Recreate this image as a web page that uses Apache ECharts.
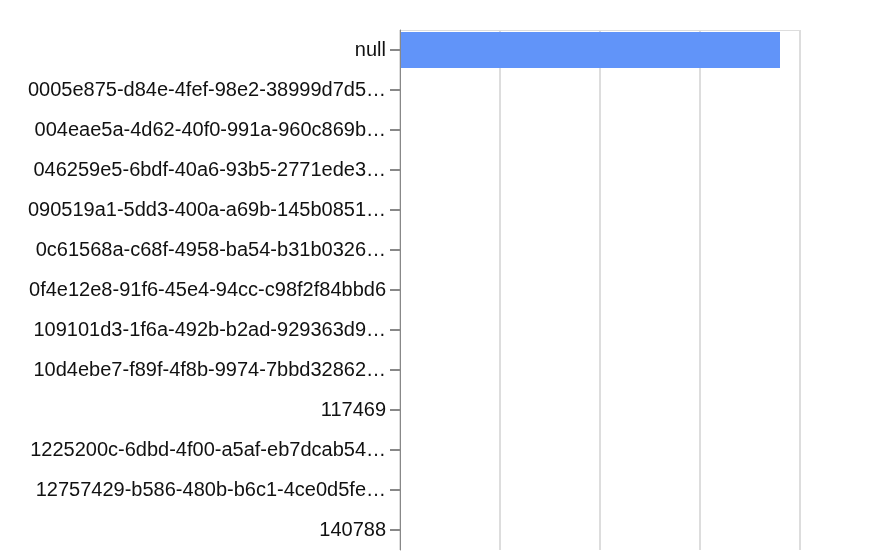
<!DOCTYPE html>
<html>
<head>
<meta charset="utf-8">
<script src="https://cdn.jsdelivr.net/npm/echarts@6/dist/echarts.min.js"></script>
<style>
html,body{margin:0;padding:0;background:#fff;overflow:hidden;}
#chart{width:882px;height:552px;}
</style>
</head>
<body>
<div id="chart"></div>
<script>
var categories = [
  "null",
  "0005e875-d84e-4fef-98e2-38999d7d5d1a",
  "004eae5a-4d62-40f0-991a-960c869b2c3e",
  "046259e5-6bdf-40a6-93b5-2771ede3a4f0",
  "090519a1-5dd3-400a-a69b-145b08517e2c",
  "0c61568a-c68f-4958-ba54-b31b03269d4e",
  "0f4e12e8-91f6-45e4-94cc-c98f2f84bbd6",
  "109101d3-1f6a-492b-b2ad-929363d9e1f7",
  "10d4ebe7-f89f-4f8b-9974-7bbd32862a5c",
  "117469",
  "1225200c-6dbd-4f00-a5af-eb7dcab54e83",
  "12757429-b586-480b-b6c1-4ce0d5fe9a12",
  "140788"
];
var values = [380, 0.5, 1, 0.5, 1, 0.5, 0.5, 0.5, 0.5, 0.5, 0.5, 0.5, 0.5];
var xTicks = { min: 0, max: 400, interval: 100 };

var chart = echarts.init(document.getElementById('chart'));
chart.setOption({
  animation: false,
  grid: { left: 400, right: 82, top: 30, bottom: 2, containLabel: false },
  xAxis: {
    type: 'value',
    position: 'top',
    min: xTicks.min, max: xTicks.max, interval: xTicks.interval,
    axisLine: { show: true, lineStyle: { color: '#dddddd', width: 1 } },
    axisTick: { show: false },
    axisLabel: { show: false },
    splitLine: { show: true, lineStyle: { color: '#dddddd', width: 2 } }
  },
  yAxis: {
    type: 'category',
    inverse: true,
    data: categories,
    z: 3,
    axisLine: { show: true, lineStyle: { color: '#888888', width: 1 } },
    axisTick: { show: true, alignWithLabel: true, length: 10, lineStyle: { color: '#888888', width: 2 } },
    axisLabel: {
      margin: 14,
      fontSize: 20,
      fontFamily: 'Liberation Sans, Arial, sans-serif',
      color: '#111111',
      width: 360,
      overflow: 'truncate',
      ellipsis: '\u2026'
    },
    splitLine: { show: false }
  },
  series: [{
    type: 'bar',
    data: values,
    barCategoryGap: '10%',
    itemStyle: { color: '#6194f9' }
  }]
});
</script>
</body>
</html>
